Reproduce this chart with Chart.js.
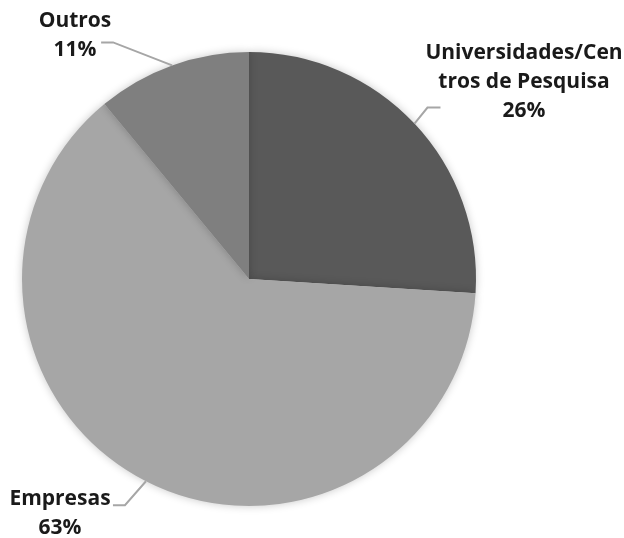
<!DOCTYPE html>
<html>
<head>
<meta charset="utf-8">
<script src="https://cdn.jsdelivr.net/npm/chart.js@4.4.1/dist/chart.umd.min.js"></script>
<style>
  html, body { margin: 0; padding: 0; background: #fff; }
  #wrap { width: 624px; height: 538px; }
</style>
</head>
<body>
<div id="wrap"><canvas id="pie"></canvas></div>
<script>
// categories, in drawing order (clockwise from 12 o'clock)
const categories = ['Universidades/Centros de Pesquisa', 'Empresas', 'Outros'];
// label text as it is broken in the picture
const labelLines = [
  ['Universidades/Cen', 'tros de Pesquisa'],
  ['Empresas'],
  ['Outros'],
];
// share of each category, %
const shares = [26, 63, 11];
const sliceColors = ['#595959', '#a6a6a6', '#7f7f7f'];

// where each label's text and leader line go (layout only)
const labelLayout = [
  { dx: 13, dy: -16, run: 13, tx: 524, ty: 53 },
  { dx: -21, dy: 24, run: -12, tx: 60, ty: 499 },
  { dx: -59, dy: -23, run: -12, tx: 75, ty: 21 },
];

// draws labels with leader lines, like the office pie style
const outsideLabels = {
  id: 'outsideLabels',
  afterDatasetsDraw(chart) {
    const ctx = chart.ctx;
    const meta = chart.getDatasetMeta(0);
    ctx.save();
    meta.data.forEach((arc, i) => {
      const mid = (arc.startAngle + arc.endAngle) / 2;
      const ex = arc.x + Math.cos(mid) * arc.outerRadius;
      const ey = arc.y + Math.sin(mid) * arc.outerRadius;
      const L = labelLayout[i];
      ctx.strokeStyle = '#a6a6a6';
      ctx.lineWidth = 2;
      ctx.beginPath();
      ctx.moveTo(ex, ey);
      ctx.lineTo(ex + L.dx, ey + L.dy);
      ctx.lineTo(ex + L.dx + L.run, ey + L.dy);
      ctx.stroke();

      ctx.fillStyle = '#1a1a1a';
      ctx.font = 'bold 21px "Open Sans"';
      ctx.textAlign = 'center';
      ctx.textBaseline = 'middle';
      const lines = labelLines[i].concat([shares[i] + '%']);
      lines.forEach((t, k) => ctx.fillText(t, L.tx, L.ty + k * 29));
    });
    ctx.restore();
  },
};

// soft glow round the pie
const pieShadow = {
  id: 'pieShadow',
  beforeDatasetDraw(chart) {
    const ctx = chart.ctx;
    ctx.save();
    ctx.shadowColor = 'rgba(0,0,0,0.22)';
    ctx.shadowBlur = 8;
  },
  afterDatasetDraw(chart) {
    chart.ctx.restore();
  },
};

const chartdata = {
  labels: categories,
  datasets: [
    {
      data: shares,
      backgroundColor: sliceColors,
      borderWidth: 0,
    },
  ],
};

const chartconfig = {
  type: 'pie',
  data: chartdata,
  plugins: [pieShadow, outsideLabels],
  options: {
    responsive: true,
    maintainAspectRatio: false,
    animation: false,
    layout: { padding: { left: 22, right: 148, top: 52, bottom: 32 } },
    plugins: {
      legend: { display: false },
      tooltip: { enabled: false },
    },
  },
};

const chart = new Chart('pie', chartconfig);
</script>
</body>
</html>
